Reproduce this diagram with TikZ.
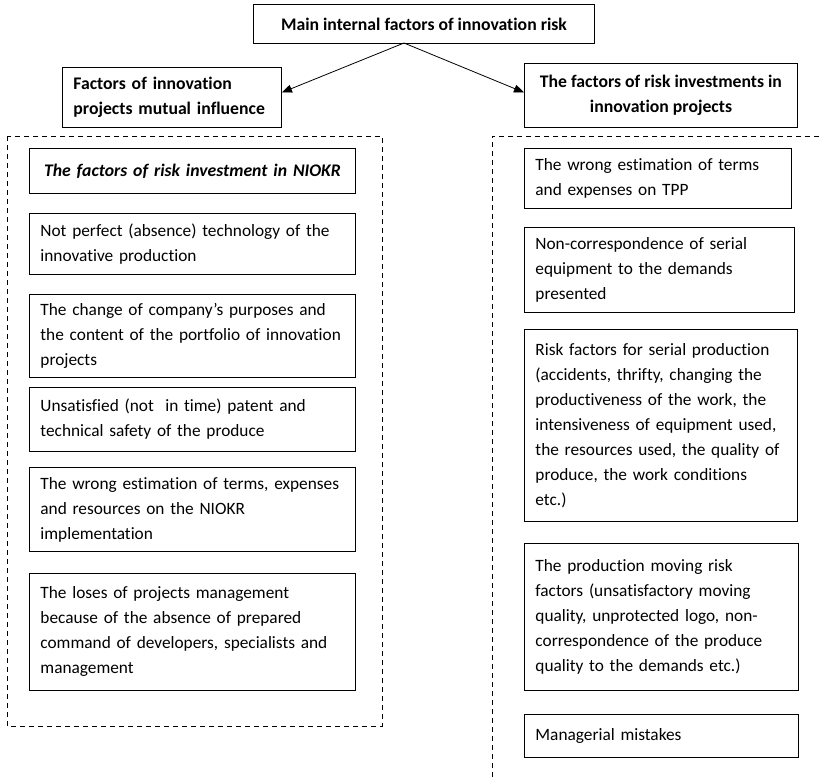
\documentclass[tikz,border=0pt]{standalone}
\usepackage{fontspec}
\setmainfont{Carlito}[Ligatures=CommonOff]
\usetikzlibrary{arrows.meta}
\hyphenpenalty=10000
\exhyphenpenalty=10000

\begin{document}
\begin{tikzpicture}[
	x=1pt, y=-1pt,
	every node/.style={font=\fontsize{17.3pt}{25pt}\selectfont},
	box/.style={draw, line width=0.9pt, anchor=north west, inner xsep=11pt, inner ysep=0pt},
	head/.style={box, font=\fontsize{17.7pt}{25pt}\selectfont\bfseries},
	arrow/.style={-{Triangle[length=10pt, width=8pt]}, line width=0.8pt},
	group/.style={line width=0.8pt, dash pattern=on 5pt off 4pt}
	]
	\useasboundingbox (0,0) rectangle (819,777);
	
	% === HEADINGS ===
	\node[head, minimum width=341pt, minimum height=39pt, align=center] 
	(main) at (253,4) {Main internal factors of innovation risk};
	\node[head, text width=197pt, minimum height=60pt, align=left] 
	(mutual) at (62,67) {Factors of innovation\\projects mutual influence};
	\node[head, minimum width=273pt, minimum height=64pt, align=center] 
	(invest) at (524,63) {The factors of risk investments in\\innovation projects};
	
	% split point under the main box
	\coordinate (split) at (404,43);
	\draw[arrow] (split) -- ([yshift=5pt]mutual.east);
	\draw[arrow] (split) -- ([yshift=3pt]invest.west);
	
	% === DASHED GROUPS ===
	\draw[group] (7,136) rectangle (382,726);
	\draw[group] (819,136) -- (492,136) -- (492,777);
	
	% === LEFT COLUMN ===
	\node[box, text width=304pt, minimum height=45pt, align=center, 
	font=\fontsize{17.7pt}{25pt}\selectfont\bfseries\itshape] 
	(niokr) at (29,148) {The factors of risk investment in NIOKR};
	
	\foreach \name/\y/\h/\txt in {
		technology/213/61pt/{Not perfect (absence) technology of the\\innovative production},
		purposes/294/83pt/{The change of company’s purposes and\\the content of the portfolio of innovation\\projects},
		patent/387/64pt/{Unsatisfied (not\ \ in time) patent and\\technical safety of the produce},
		estimation/467/84pt/{The wrong estimation of terms, expenses\\and resources on the NIOKR\\implementation},
		loses/573/117pt/{The loses of projects management\\because of the absence of prepared\\command of developers, specialists and\\management}} {
		\node[box, text width=304pt, minimum height=\h, align=left] (\name) at (29,\y) {\txt};
	}
	
	% === RIGHT COLUMN ===
	\foreach \name/\y/\tw/\h/\txt in {
		tpp/148/245pt/60pt/{The wrong estimation of terms\\and expenses on TPP},
		equipment/227/248pt/85pt/{Non-correspondence of serial\\equipment to the demands\\presented},
		serial/329/251pt/192pt/{Risk factors for serial production\\(accidents, thrifty, changing the\\productiveness of the work, the\\intensiveness of equipment used,\\the resources used, the quality of\\produce, the work conditions\\etc.)},
		moving/543/252pt/147pt/{The production moving risk\\factors (unsatisfactory moving\\quality, unprotected logo, non-\\correspondence of the produce\\quality to the demands etc.)},
		mistakes/714/252pt/43pt/{Managerial mistakes}} {
		\node[box, text width=\tw, minimum height=\h, align=left] (\name) at (524,\y) {\txt};
	}
	
\end{tikzpicture}
\end{document}
